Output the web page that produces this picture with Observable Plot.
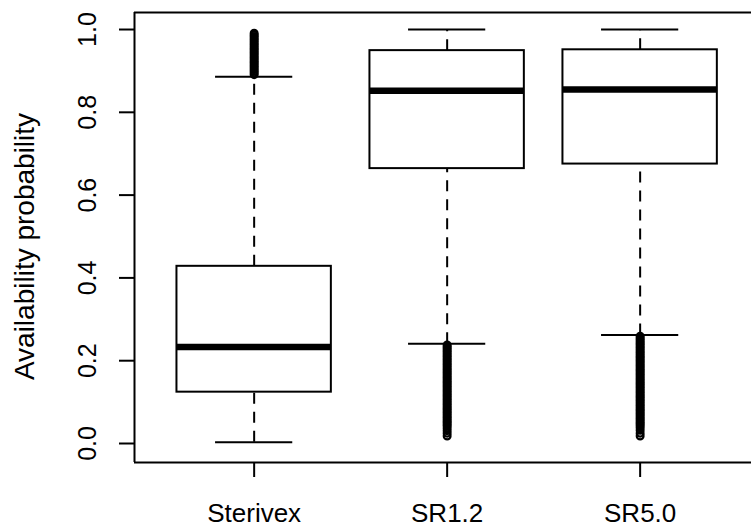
<!DOCTYPE html>
<html>
<head>
<meta charset="utf-8">
<script src="https://cdn.jsdelivr.net/npm/d3@7"></script>
<script src="https://cdn.jsdelivr.net/npm/@observablehq/plot@0.6"></script>
<style>
  html, body { margin: 0; padding: 0; background: #fff; }
  #chart svg { display: block; }
</style>
</head>
<body>
<div id="chart"></div>
<script>
// ---- Data ----
const groups = ["Sterivex", "SR1.2", "SR5.0"];
const lowerWhisker = [0.003, 0.241, 0.262];
const q1 = [0.124, 0.664, 0.675];
const median = [0.233, 0.852, 0.855];
const q3 = [0.428, 0.949, 0.951];
const upperWhisker = [0.886, 1.0, 1.0];

const outliersSterivex = [0.891, 0.895, 0.899, 0.903, 0.907, 0.911, 0.915, 0.919, 0.923, 0.927, 0.931,
  0.935, 0.939, 0.943, 0.947, 0.951, 0.955, 0.959, 0.963, 0.967, 0.971, 0.975, 0.979, 0.983, 0.987, 0.991];
const outliersSR12 = [0.238, 0.234, 0.230, 0.226, 0.222, 0.218, 0.214, 0.210, 0.206, 0.202, 0.198, 0.194,
  0.190, 0.186, 0.182, 0.178, 0.174, 0.170, 0.166, 0.162, 0.158, 0.154, 0.150, 0.146, 0.142, 0.138,
  0.134, 0.130, 0.126, 0.122, 0.118, 0.114, 0.110, 0.106, 0.102, 0.098, 0.094, 0.090, 0.086, 0.082,
  0.078, 0.074, 0.070, 0.066, 0.062, 0.058, 0.054, 0.050, 0.046, 0.042, 0.037, 0.031, 0.025, 0.018];
const outliersSR50 = [0.259, 0.255, 0.251, 0.247, 0.243, 0.239, 0.235, 0.231, 0.227, 0.223, 0.219, 0.215,
  0.211, 0.207, 0.203, 0.199, 0.195, 0.191, 0.187, 0.183, 0.179, 0.175, 0.171, 0.167, 0.163, 0.159,
  0.155, 0.151, 0.147, 0.143, 0.139, 0.135, 0.131, 0.127, 0.123, 0.119, 0.115, 0.111, 0.107, 0.103,
  0.099, 0.095, 0.091, 0.087, 0.083, 0.079, 0.075, 0.071, 0.067, 0.063, 0.059, 0.055, 0.051, 0.047,
  0.043, 0.038, 0.032, 0.025, 0.018];

const yTicks = [0, 0.2, 0.4, 0.6, 0.8, 1.0];
const yLabel = "Availability probability";

// axis limits (R-style 4% extension)
const xDomain = [0.38, 3.577];
const yDomain = [-0.0459, 1.0411];

// ---- Build tables ----
const boxes = groups.map((g, i) => ({
  g, pos: i + 1, lo: lowerWhisker[i], q1: q1[i], med: median[i], q3: q3[i], hi: upperWhisker[i]
}));
const outlierLists = [outliersSterivex, outliersSR12, outliersSR50];
const outliers = outlierLists.flatMap((list, i) => list.map(v => ({ pos: i + 1, v })));

const font = "'Liberation Sans', Arial, Helvetica, sans-serif";

const chart = Plot.plot({
  width: 751,
  height: 528,
  marginLeft: 134,
  marginRight: 0,
  marginTop: 12,
  marginBottom: 66,
  style: { fontFamily: font, background: "#fff", color: "#000" },
  x: { type: "linear", domain: xDomain, axis: null },
  y: { domain: yDomain, axis: null },
  marks: [
    // frame (left, top, bottom)
    Plot.ruleX([xDomain[0]], { stroke: "#000", strokeWidth: 2 }),
    Plot.ruleY([yDomain[0], yDomain[1]], { stroke: "#000", strokeWidth: 2 }),
    // whiskers (dashed)
    Plot.ruleX(boxes, { x: "pos", y1: "q3", y2: "hi", stroke: "#000", strokeWidth: 2, strokeDasharray: "11,8" }),
    Plot.ruleX(boxes, { x: "pos", y1: "lo", y2: "q1", stroke: "#000", strokeWidth: 2, strokeDasharray: "11,8" }),
    // whisker caps
    Plot.ruleY(boxes, { y: "hi", x1: d => d.pos - 0.2, x2: d => d.pos + 0.2, stroke: "#000", strokeWidth: 2 }),
    Plot.ruleY(boxes, { y: "lo", x1: d => d.pos - 0.2, x2: d => d.pos + 0.2, stroke: "#000", strokeWidth: 2 }),
    // boxes
    Plot.rect(boxes, { x1: d => d.pos - 0.4, x2: d => d.pos + 0.4, y1: "q1", y2: "q3", fill: "#fff", stroke: "#000", strokeWidth: 2 }),
    // medians
    Plot.ruleY(boxes, { y: "med", x1: d => d.pos - 0.4, x2: d => d.pos + 0.4, stroke: "#000", strokeWidth: 6.5 }),
    // outliers
    Plot.dot(outliers, { x: "pos", y: "v", r: 3.4, stroke: "#000", strokeWidth: 2.2, fill: "none" }),
    // y axis ticks
    Plot.axisY(yTicks, { anchor: "left", tickSize: 15, tickFormat: () => "", strokeWidth: 2, label: null }),
    Plot.text(yTicks, { y: d => d, frameAnchor: "left", dx: -47, rotate: -90, text: d => d.toFixed(1),
      fontSize: 25, textAnchor: "middle", lineAnchor: "middle", fill: "#000" }),
    // x axis ticks
    Plot.axisX(boxes.map(d => d.pos), { anchor: "bottom", tickSize: 15, tickFormat: () => "", strokeWidth: 2, label: null }),
    Plot.text(boxes, { x: "pos", frameAnchor: "bottom", dy: 51, text: "g", fontSize: 26,
      textAnchor: "middle", lineAnchor: "middle", fill: "#000" }),
    // y axis title
    Plot.text([yLabel], { frameAnchor: "left", dx: -109, dy: 9, rotate: -90, text: d => d, fontSize: 28,
      textAnchor: "middle", lineAnchor: "middle", fill: "#000" })
  ]
});
document.getElementById("chart").appendChild(chart);
</script>
</body>
</html>
